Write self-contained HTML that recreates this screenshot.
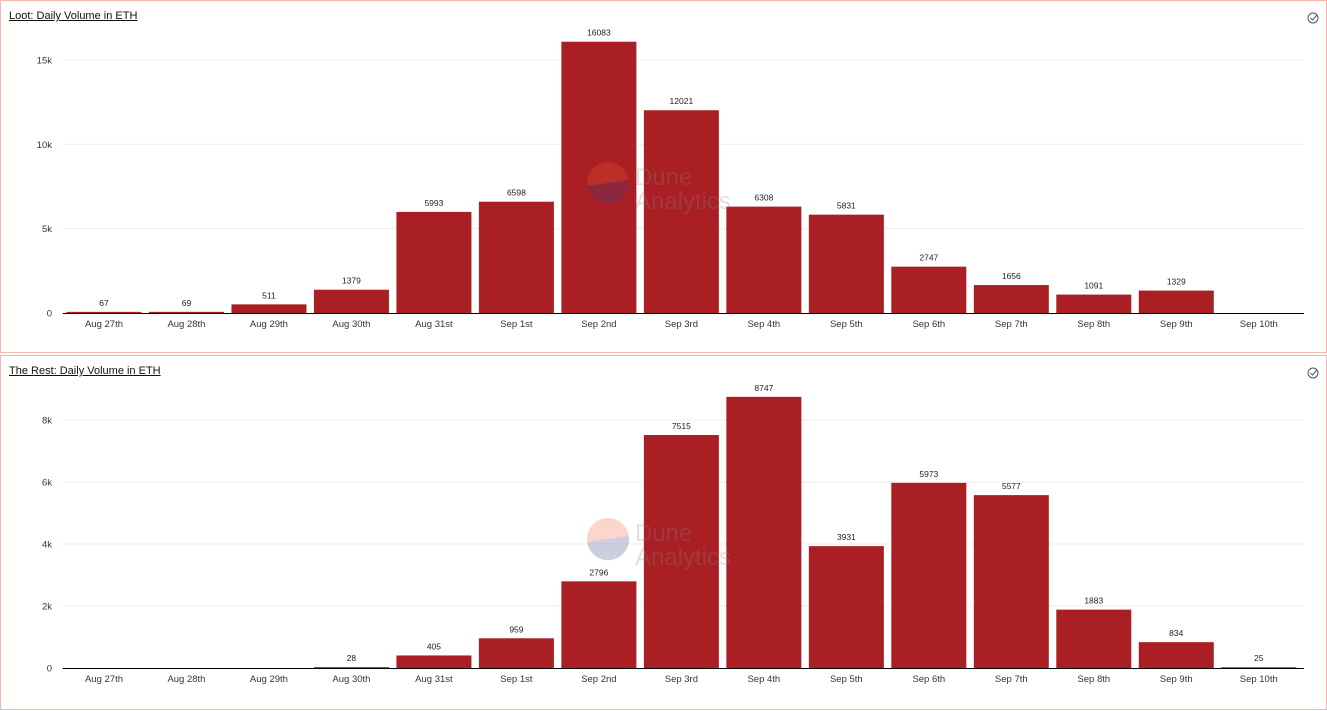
<!DOCTYPE html>
<html><head><meta charset="utf-8"><style>
body{margin:0;width:1327px;height:711px;background:#fff;font-family:"Liberation Sans",sans-serif;overflow:hidden}
.panel{position:absolute;left:0;width:1325px;border:1px solid #f7b7b0;background:#fff}
.title{position:absolute;left:8px;top:9px;font-size:11px;text-decoration:underline;color:#111}
svg{position:absolute;left:0;top:0}
</style></head><body>
<div class="panel" style="top:0;height:351px">
<div class="title">Loot: Daily Volume in ETH</div>
<svg id="c1" width="1325" height="351"></svg>
</div>
<div class="panel" style="top:355px;height:353px">
<div class="title">The Rest: Daily Volume in ETH</div>
<svg id="c2" width="1325" height="353"></svg>
</div>
<script>
const categories=["Aug 27th","Aug 28th","Aug 29th","Aug 30th","Aug 31st","Sep 1st","Sep 2nd","Sep 3rd","Sep 4th","Sep 5th","Sep 6th","Sep 7th","Sep 8th","Sep 9th","Sep 10th"];
const lootValues=[67,69,511,1379,5993,6598,16083,12021,6308,5831,2747,1656,1091,1329,null];
const restValues=[null,null,null,28,405,959,2796,7515,8747,3931,5973,5577,1883,834,25];
const lootTicks=[0,5000,10000,15000];
const lootTickLabels=["0","5k","10k","15k"];
const restTicks=[0,2000,4000,6000,8000];
const restTickLabels=["0","2k","4k","6k","8k"];
const NS="http://www.w3.org/2000/svg";
function mk(svg,tag,attrs,text){const e=document.createElementNS(NS,tag);for(const k in attrs)e.setAttribute(k,attrs[k]);if(text!=null)e.textContent=text;svg.appendChild(e);return e;}
function draw(id,values,ticks,tickLabels,y0,yTop,maxV,wmY){
 const svg=document.getElementById(id);
 const x0=61.75,x1=1299,bw=(x1-x0)/categories.length;
 const y=v=>y0-(v/maxV)*(y0-yTop);
 ticks.forEach((t,i)=>{
  if(t>0){const g=mk(svg,'line',{x1:x0,x2:1303,y1:y(t),y2:y(t),stroke:'#eee','stroke-width':1});
  
  }
  const l=mk(svg,'text',{x:51,y:y(t)+3.5,'text-anchor':'end','font-size':9.5,fill:'#333'},tickLabels[i]);
  
  
 });
 categories.forEach((cat,i)=>{
  const cx=x0+bw*(i+0.5);
  const v=values[i];
  if(v!=null){
   const r=mk(svg,'rect',{x:cx-37.5,y:y(v),width:75,height:y0-y(v),fill:'#a91f23'});
   
   
   const vl=mk(svg,'text',{x:cx,y:y(v)-6,'text-anchor':'middle','font-size':8.5,fill:'#222'},String(v));
   
   
  }
  const xl=mk(svg,'text',{x:cx,y:y0+14,'text-anchor':'middle','font-size':9.5,fill:'#333'},cat);
  
  
 });
 const ax=mk(svg,'line',{x1:x0,x2:1303,y1:y0+0.5,y2:y0+0.5,stroke:'#000','stroke-width':1});
 
 
 const wm=mk(svg,'g',{opacity:0.25});
 
 
 const c=document.createElementNS(NS,'circle');c.setAttribute('cx',607);c.setAttribute('cy',wmY);c.setAttribute('r',21);c.setAttribute('fill','#f4603e');wm.appendChild(c);
 const p=document.createElementNS(NS,'path');p.setAttribute('d',`M586 ${wmY+3} A21 21 0 0 0 628 ${wmY-3} Z`);p.setAttribute('fill','#3b3f8f');wm.appendChild(p);
 const t1=document.createElementNS(NS,'text');t1.setAttribute('x',634);t1.setAttribute('y',wmY+2);t1.setAttribute('font-size',24);t1.setAttribute('fill','#888');t1.textContent='Dune';wm.appendChild(t1);
 const t2=document.createElementNS(NS,'text');t2.setAttribute('x',634);t2.setAttribute('y',wmY+26);t2.setAttribute('font-size',24);t2.setAttribute('fill','#888');t2.textContent='Analytics';wm.appendChild(t2);
 const ic=mk(svg,'g',{fill:'none',stroke:'#555','stroke-width':1});
 
 
 const ci=document.createElementNS(NS,'circle');ci.setAttribute('cx',1312);ci.setAttribute('cy',17);ci.setAttribute('r',5);ic.appendChild(ci);
 const pl=document.createElementNS(NS,'path');pl.setAttribute('d','M1309.5 17 L1311.5 19 L1316 14');ic.appendChild(pl);
}
draw('c1',lootValues,lootTicks,lootTickLabels,312,59,15000,182);
draw('c2',restValues,restTicks,restTickLabels,312,64,8000,183);
</script>
</body></html>
